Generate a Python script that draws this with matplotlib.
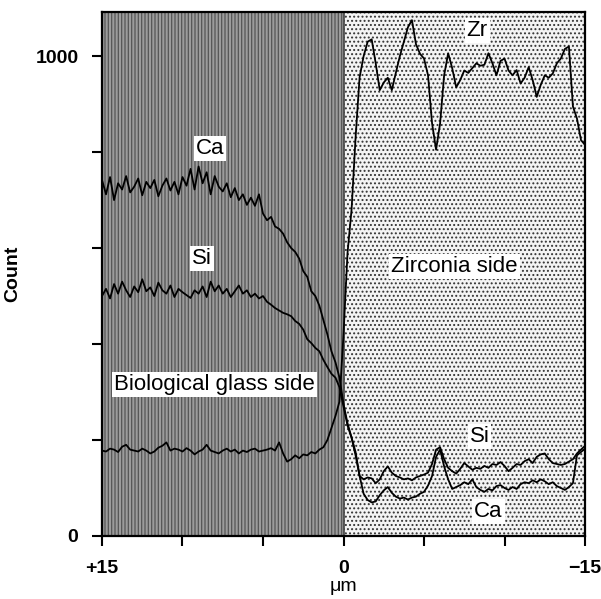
import numpy as np
import matplotlib.pyplot as plt

plt.rcParams['font.family'] = ['Liberation Sans', 'DejaVu Sans']
plt.rcParams['hatch.linewidth'] = 0.9

# line scan, sampled every 0.25 um from +15 to -15
distance = np.linspace(15, -15, 121)

ca = [742, 712, 748, 700, 735, 722, 750, 716, 728, 745,
      710, 738, 725, 742, 708, 730, 745, 720, 738, 712,
      748, 730, 765, 722, 770, 735, 758, 712, 750, 728,
      718, 735, 706, 725, 700, 712, 690, 705, 688, 712,
      672, 658, 665, 645, 640, 630, 612, 600, 592, 578,
      552, 540, 510, 500, 480, 450, 420, 385, 362, 330,
      275, 235, 205, 175, 125, 88, 75, 70, 72, 85,
      95, 102, 90, 82, 78, 80, 76, 80, 82, 88,
      92, 105, 125, 165, 180, 145, 118, 98, 102, 106,
      112, 108, 118, 102, 96, 92, 98, 95, 104, 106,
      100, 96, 102, 98, 108, 112, 110, 116, 112, 118,
      114, 108, 112, 104, 100, 96, 102, 110, 168, 175, 182]

si = [500, 515, 495, 525, 505, 530, 512, 498, 520, 508,
      535, 510, 518, 500, 528, 512, 505, 522, 498, 515,
      508, 502, 496, 512, 505, 520, 498, 530, 510, 522,
      505, 515, 498, 510, 522, 505, 512, 498, 505, 495,
      500, 488, 482, 475, 470, 465, 462, 458, 448, 442,
      430, 410, 402, 392, 385, 367, 352, 338, 330, 310,
      270, 230, 205, 168, 125, 118, 122, 120, 110, 118,
      135, 145, 132, 125, 122, 118, 120, 116, 122, 125,
      128, 132, 150, 180, 185, 160, 142, 135, 130, 140,
      152, 145, 138, 142, 140, 146, 142, 150, 148, 154,
      146, 135, 142, 150, 148, 156, 160, 152, 165, 170,
      172, 160, 152, 150, 148, 150, 155, 160, 172, 180, 188]

zr = [178, 176, 182, 180, 175, 186, 190, 180, 178, 176,
      182, 178, 172, 176, 184, 188, 195, 178, 182, 180,
      176, 183, 178, 170, 176, 180, 190, 178, 175, 172,
      178, 182, 176, 180, 172, 178, 175, 180, 182, 176,
      178, 180, 183, 178, 195, 172, 155, 160, 168, 162,
      170, 168, 175, 172, 180, 185, 200, 225, 250, 280,
      420, 590, 680, 830, 956, 1000, 1030, 1035, 985, 929,
      945, 955, 929, 965, 1000, 1030, 1060, 1075, 1025, 1005,
      995, 960, 860, 805, 860, 960, 1006, 975, 935, 950,
      970, 965, 975, 985, 980, 982, 1006, 985, 960, 990,
      995, 970, 960, 971, 943, 955, 977, 950, 915, 940,
      960, 955, 964, 985, 995, 1015, 1020, 895, 870, 825, 815]

# (text, x, y)
labels = [('Ca', 8.3, 808), ('Si', 8.8, 579), ('Biological glass side', 8.0, 315),
          ('Zirconia side', -6.9, 562), ('Zr', -8.3, 1054),
          ('Si', -8.45, 208), ('Ca', -9.0, 52)]

fig = plt.figure(figsize=(6.01, 5.99), dpi=100)
ax = fig.add_axes([0.1697, 0.1052, 0.8037, 0.8748])

ax.set_xlim(15, -15)
ax.set_ylim(0, 1092)

# glass side (left) and zirconia side (right) backgrounds
ax.axvspan(15, 0, facecolor='#9c9c9c', edgecolor='#555555', hatch='|||||', lw=0, zorder=0)
ax.axvspan(0, -15, facecolor='#f4f4f4', edgecolor='#333333', hatch='....', lw=0, zorder=0)
ax.axvline(0, color='#444444', lw=1.2, zorder=1)

for vals in (ca, si, zr):
    ax.plot(distance, vals, color='black', lw=1.3, zorder=3)

for txt, x, y in labels:
    ax.text(x, y, txt, ha='center', va='center', fontsize=16, zorder=4,
            bbox=dict(facecolor='white', edgecolor='none', pad=1.5))

ax.set_xticks([15, 10, 5, 0, -5, -10, -15])
ax.set_xticklabels(['+15', '', '', '0', '', '', '\u221215'])
ax.set_yticks([0, 200, 400, 600, 800, 1000])
ax.set_yticklabels(['0', '', '', '', '', '1000'])
ax.tick_params(direction='out', length=7, width=1.5, labelsize=14, pad=10)
for lab in ax.get_xticklabels() + ax.get_yticklabels():
    lab.set_fontweight('bold')
for s in ax.spines.values():
    s.set_linewidth(1.6)

ax.set_xlabel('\u03bcm', fontsize=14, labelpad=1)
ax.set_ylabel('Count', fontsize=14, fontweight='bold', labelpad=10)

fig.savefig('out.png', dpi=100)
